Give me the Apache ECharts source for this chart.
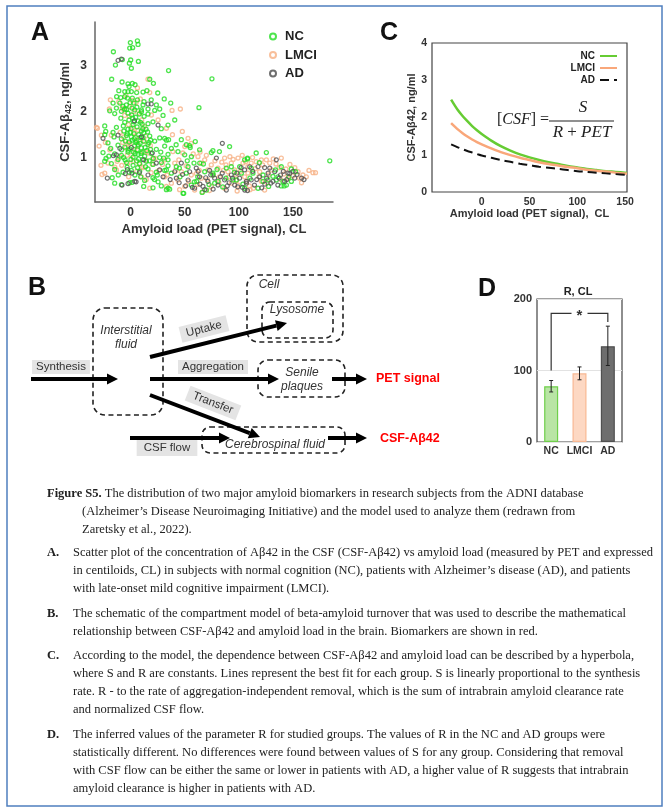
<!DOCTYPE html>
<html>
<head>
<meta charset="utf-8">
<script src="https://cdn.jsdelivr.net/npm/echarts@6/dist/echarts.min.js"></script>
<style>
html, body { margin: 0; padding: 0; background: #fff; }
#chart { width: 669px; height: 811px; }
</style>
</head>
<body>
<div id="chart"></div>
<script>
// A: CSF-Aβ42 vs amyloid load, one [CL, ng/ml] pair per subject
const ncPts = [
  [-0.3,3.51],[6.2,3.55],[6.8,3.47],[-0.9,3.39],[1.8,3.40],[-16,3.31],[-7.7,3.14],[0,3.13],[-1.2,3.06],[7.1,3.10],
  [0.6,2.95],[-14.1,3.02],[35,2.90],[75.1,2.72],[-17.6,2.71],[-8,2.65],[17.6,2.71],[21,2.62],[-2.5,2.61],[1.5,2.62],
  [4,2.59],[-1.5,2.55],[-11,2.46],[-5.5,2.44],[-2.5,2.44],[0.6,2.44],[5.5,2.42],[11.4,2.43],[15,2.46],[25,2.41],
  [-13,2.33],[-9.2,2.31],[-5.5,2.33],[-3,2.30],[1.5,2.30],[6.2,2.26],[12.3,2.22],[19,2.26],[31,2.28],[-16.3,2.19],
  [-10,2.19],[-4,2.15],[3,2.19],[11.4,2.15],[23.7,2.15],[37,2.19],[-13.2,2.08],[-5.5,2.06],[1.2,2.08],[9.9,2.04],
  [16,2.06],[26.8,2.06],[63.1,2.09],
  [-19.4,2.02],[-14.8,1.96],[-8.6,2.01],[-2.5,1.97],[3.7,2.04],[9.9,2.0],[16,1.95],[22.2,2.03],[29.9,1.92],
  [-24,1.69],[-13.2,1.66],[-5.5,1.77],[-2.5,1.62],[2.2,1.72],[6.8,1.8],[9.9,1.58],[16,1.74],[20.6,1.78],[28.3,1.63],
  [-24,1.5],[-16.3,1.55],[-8.6,1.41],[-4,1.48],[0.6,1.45],[5.2,1.37],[11.4,1.44],[17.6,1.47],[22.2,1.36],[26.8,1.43],[33,1.38],
  [-21,1.32],[-11.7,1.27],[-5.5,1.23],[-0.9,1.19],[3.7,1.26],[9.9,1.21],[16,1.29],[23.7,1.18],[31.4,1.25],
  [-25.6,1.11],[-14.8,1.08],[-8.6,1.05],[-2.5,1.12],[2.2,1.01],[6.8,1.07],[12.9,1.03],[19.1,1.09],[26.8,1.0],[34.5,1.07],
  [-24,0.92],[-17.9,0.87],[-11.7,0.96],[-4,0.89],[2.2,0.83],[8.3,0.87],[14.5,0.92],[20.6,0.85],[28.3,0.89],[34.5,0.82],
  [-14.8,0.74],[-7.1,0.68],[0.6,0.72],[8.3,0.7],[16,0.75],[23.7,0.68],[31.4,0.72],
  [-14.8,0.44],[-8.6,0.41],[-0.9,0.45],[12.9,0.5],[20.6,0.56],[25.3,0.47],[28.3,0.38],[33,0.3],[1.5,0.46],[12,0.37],
  [20.6,0.34],[22,0.52],[36,0.31],[49,0.22],[66,0.24],[61,0.48],
  [-7.2,2.12],[-3.8,2.05],[0.9,1.93],[4.6,1.88],[7.9,1.95],[12.4,1.9],[-9.1,1.86],[-1.6,1.82],[2.8,1.78],[5.9,1.67],
  [10.6,1.73],[14.2,1.62],[-6.3,1.58],[-0.4,1.55],[3.1,1.52],[7.4,1.5],[12.1,1.54],[16.8,1.33],[-4.9,1.36],[1.4,1.38],
  [4.8,1.33],[8.7,1.31],[11.9,1.36],[14.9,1.15],[-2.2,1.16],[2.6,1.12],[6.1,1.17],[9.6,1.09],[18.3,1.18],[20.9,0.98],
  [-6.6,1.0],[0.2,0.96],[5.4,0.93],[10.9,0.96],[13.7,0.8],[17.2,0.93],[-3.3,0.79],[3.9,0.62],[9.2,0.58],[6.4,0.78],
  [-11.5,0.62],[-1.3,0.68],[24.6,0.62],[27.8,1.12],[30.5,0.99],[-18.5,1.2],[-15.4,1.45],[-20.2,1.03],[-22.8,0.98],[-17.1,0.56],
  [-23.1,1.57],
  [-6.8,1.69],[-3.1,1.52],[0.3,1.63],[3.4,1.41],[6.9,1.28],[8.8,1.44],[11.2,1.63],[13.3,1.22],[15.6,1.56],[18.4,1.38],
  [-1.4,1.34],[4.1,1.09],[7.3,0.97],[10.4,1.12],[-8.4,1.17],[-5.2,0.95],[1.8,1.86],[5.7,2.1],[-0.6,2.2],[9.1,1.77],
  [34.5,1.71],[40.7,1.82],[31.4,1.42],[35,1.39],[42,1.28],[43.7,1.13],[54.5,1.26],[59.7,1.35],[37.6,1.2],[49.9,1.06],
  [74.5,1.11],[82,1.13],[91.4,1.24],[105.3,0.95],[34.5,0.95],[33,0.73],[37.6,0.66],[45,0.77],[53,0.8],[58.5,0.88],
  [62,0.58],[68.4,0.69],[76,0.62],[80.7,0.48],[88,0.55],[97.6,0.51],[105.3,0.33],[102.3,0.66],[34.5,0.33],[48.4,0.22],
  [56,0.4],[70,0.29],[77.6,0.44],[93,0.8],[108,0.99],
  [51.4,1.28],[55,1.22],[46.8,1.39],[63.7,1.17],[76,1.15],
  [116,1.1],[125.4,1.11],[184,0.93],[108,0.97],[139.2,0.8],[148.5,0.75],[136.2,0.58],[148.5,0.48],[139.2,0.38],[141.8,0.38],
  [117.7,0.33],[126.9,0.51],[134.6,0.51],[111.4,0.77],[122.3,0.62],
  [63.8,0.88],[76,0.66],[88.4,0.77],[94.6,0.51],[100.7,0.8],[113,0.66],[122.3,0.48],[131.5,0.59],[140.8,0.48],[143.9,0.4],
  [42.2,0.8],[51.4,0.66],[56.1,1.02],
  [45.6,0.58],[52.3,0.93],[58.9,0.47],[67.2,0.86],[72.4,0.41],[79.8,0.74],[85.1,0.36],[95.9,0.68],[103.7,0.42],[110.2,0.55],
  [118.9,0.89],[127.5,0.37],[133.8,0.73],[146.2,0.58],[152.4,0.69]
];
const lmciPts = [
  [16,2.71],[6.2,2.52],[17.6,2.42],[-18.8,2.26],[-11,2.22],[-19.7,2.06],[-0.9,2.11],[3,2.0],[-6.2,2.04],
  [-30.8,1.64],[-27.1,1.49],[-17.9,1.49],[-19.4,1.17],[-21,0.88],[-24,0.66],[-13.2,0.73],[9.9,0.58],[17.6,0.33],[33,0.37],
  [25.3,1.82],[19.1,1.93],[6.8,1.6],[12.9,1.35],[3.7,1.17],[16,1.1],[-2.5,1.31],[9.9,0.8],[20.6,0.99],[31.4,0.95],
  [-31.7,1.66],[-26.5,0.63],[38.2,2.03],[45.9,2.06],
  [33,1.64],[53,1.42],[56,1.31],[39,1.13],[50,1.24],[62.2,1.02],[68.4,0.95],[74.5,0.84],[86.8,0.99],[93,0.88],
  [99.2,0.99],[103.8,0.88],[40.7,0.88],[46.8,0.69],[56,0.62],[65.3,0.55],[71.4,0.73],[80.7,0.77],[89.9,0.69],[96.1,0.73],
  [105.3,0.58],[108.4,0.8],[37.6,0.44],[49.9,0.37],[59.1,0.29],[74.5,0.37],[86.8,0.33],[99.2,0.4],[31.4,0.58],[43.7,0.51],
  [65.3,0.88],[82,0.58],[93,0.44],
  [116,0.91],[120.8,0.95],[125.4,0.95],[128.5,0.88],[139.2,0.99],[154.7,0.69],[159.2,0.62],[168.5,0.67],[170.8,0.67],[111.4,0.88],
  [108.4,0.66],[119.2,0.69],[130,0.73],[120.8,0.48],[113.5,0.33],[123.8,0.29],[107,0.48],[145.4,0.55],
  [-5.6,1.92],[-2.1,1.72],[1.9,1.65],[4.3,1.44],[-0.7,1.3],[6.7,1.25],[-3.4,1.05],[2.4,0.92],[7.8,0.86],[11.3,0.78],
  [-8.3,0.83],[-12.6,0.92],[-14.7,0.79],[5.1,2.2],[8.9,2.28],[-4.5,2.36],[1.1,2.25],[10.2,1.82],[13.6,1.47],[16.4,1.12],
  [19.8,0.86],[22.7,0.98],[26.1,0.72],[29.4,0.85],[33.6,0.62],[-9.7,1.55],[-7.4,1.33],[-1.9,0.58],[14.4,0.52],[18.9,0.67],
  [-27.5,0.83],[-23.4,1.33],[-29.2,1.25],
  [-6.5,1.45],[-1.2,1.9],[2.9,1.55],[7.1,1.38],[11.7,1.12],[-4.6,1.21],[0.8,1.05],[5.6,0.7],[-9.9,1.02],[14.1,0.94],
  [-2.7,0.88],[8.2,1.97],[12.6,1.68],[-7.9,2.08],[18.2,1.26],
  [44.5,0.95],[51.2,0.82],[57.8,1.08],[63.4,0.72],[69.9,1.05],[76.3,0.62],[84.2,0.9],[91.7,1.02],[97.5,0.62],[103.1,1.05],
  [112.6,1.0],[118.4,0.58],[127.3,0.62],[131.8,0.97],[137.4,0.78],[141.6,0.64],[147.2,0.85],[149.8,0.6],[156.1,0.55],[162.3,0.58],
  [164.8,0.72],[45.2,0.3],[66.5,0.25],[72.8,0.28],[98.4,0.27],[110.3,0.3],[38.6,1.5],[47.7,1.57],
  [41.3,0.72],[48.2,1.1],[53.6,0.48],[60.7,0.65],[64.1,1.12],[70.8,0.52],[77.9,0.93],[81.5,0.45],[85.6,0.72],[90.3,0.57],
  [94.7,0.96],[101.5,0.7],[106.2,0.91],[109.7,0.38],[115.3,0.76],[121.9,0.84],[126.1,0.45],[134.3,0.86],[138.8,0.52],[143.5,0.75],
  [151.7,0.78],[157.9,0.45],[61.8,0.41],[88.1,0.84],[97.9,0.5]
];
const adPts = [
  [-11.7,3.12],[-8.6,3.15],[16,2.17],[19,2.17],
  [-25.6,1.42],[-11.7,1.49],[-13.2,1.06],[-21.6,0.55],[-2.5,0.43],[3.7,0.48],[1.2,0.66],[25.3,1.71],[29.9,0.58],[23.7,0.88],[26.8,0.73],
  [84.7,1.31],[46.8,0.88],[54.5,0.69],[60.6,0.77],[79.2,0.99],[53,0.51],[63.7,0.58],[71.4,0.48],[77.6,0.55],[80.7,0.4],
  [86.8,0.51],[93,0.62],[96.1,0.4],[100.7,0.55],[106.9,0.48],[42.2,0.55],[59.1,0.33],[88.4,0.29],[66.8,0.37],[105.3,0.73],[40.7,0.69],
  [134.6,0.95],[110,0.8],[117.7,0.8],[123.8,0.78],[128.5,0.77],[133.1,0.69],[145.4,0.66],[151.6,0.55],[160.2,0.52],[111.4,0.51],
  [119.2,0.58],[131.5,0.48],[142.3,0.48],[107,0.44],[114.4,0.4],[105.4,0.29],[138.5,0.62],
  [-16,1.04],[-10,1.2],[-5,0.65],[-8,0.4],[5,0.47],[10,1.45],[20,1.1],[-3,0.74],[0.5,1.22],[3.5,1.8],
  [8,0.67],[12,0.95],[16,0.62],[36.5,0.52],[44.8,0.45],[57,0.35],[64,0.42],[68.5,0.3],[74,0.62],[83,0.58],
  [91,0.45],[99,0.36],[102,0.78],[108,0.28],[124,0.42],[127,0.66],[136,0.4],[147,0.65],[150,0.7],[158,0.55],
  [47.9,0.63],[50.8,0.38],[62.3,0.7],[69.4,0.56],[72.9,0.72],[76.2,0.31],[84.6,0.66],[89.3,0.38],[94.1,0.55],[98.2,0.66],
  [103.2,0.35],[112.8,0.7],[116.5,0.52],[121.1,0.34],[125.7,0.55],[129.6,0.44],[137.2,0.55],[141.1,0.7],[144.3,0.52],[153.8,0.63]
];
const aTicksX = [0, 50, 100, 150];
const aTicksY = [1, 2, 3];

// C: best-fit hyperbolas
const fitX     = [-32, -25, -20, -15, -10, -5, 0, 10, 20, 30, 40, 50, 60, 70, 80, 90, 100, 110, 120, 130, 140, 152];
const fitNC    = [2.48, 2.2, 2.04, 1.9, 1.77, 1.66, 1.56, 1.38, 1.23, 1.11, 1.01, 0.93, 0.86, 0.8, 0.75, 0.7, 0.66, 0.62, 0.59, 0.56, 0.54, 0.51];
const fitLMCI  = [1.85, 1.68, 1.58, 1.49, 1.41, 1.34, 1.28, 1.17, 1.07, 0.99, 0.92, 0.86, 0.8, 0.75, 0.71, 0.67, 0.64, 0.6, 0.57, 0.55, 0.52, 0.49];
const fitAD    = [1.28, 1.2, 1.15, 1.1, 1.06, 1.02, 0.98, 0.92, 0.86, 0.81, 0.76, 0.72, 0.68, 0.65, 0.62, 0.59, 0.56, 0.54, 0.52, 0.5, 0.48, 0.46];
const cTicksX = [0, 50, 100, 150];
const cTicksY = [0, 1, 2, 3, 4];

// D: inferred R per group with error bars
const rGroups = ['NC', 'LMCI', 'AD'];
const rValues = [78, 96, 134];
const rErrLo  = [70, 87, 107];
const rErrHi  = [86, 105, 162];
const sigPair = [0, 2];            // NC vs AD
const sigLevels = [180, 100, 168]; // bracket top, left leg end, right leg end

const SANS = '"Liberation Sans", Arial, sans-serif';
const SERIF = '"Liberation Serif", "Times New Roman", serif';
const green = '#22dd22', orange = '#f7b48a', gray = '#555555';

let myChart = echarts.init(document.getElementById('chart'));

function zip(xs, ys) { return xs.map((x, i) => [x, ys[i]]); }

// --- panel B helpers ---
function arrow(x1, y1, x2, y2) {
    let a = Math.atan2(y2 - y1, x2 - x1), L = 11, W = 5.5;
    let bx = x2 - L * Math.cos(a), by = y2 - L * Math.sin(a);
    return [
        { type: 'line', shape: { x1: x1, y1: y1, x2: bx, y2: by }, style: { stroke: '#000', lineWidth: 4 } },
        { type: 'polygon', shape: { points: [[x2, y2], [bx - W * Math.sin(a), by + W * Math.cos(a)], [bx + W * Math.sin(a), by - W * Math.cos(a)]] }, style: { fill: '#000' } }
    ];
}
function dashBox(x, y, w, h, r) {
    return { type: 'rect', shape: { x: x, y: y, width: w, height: h, r: r }, style: { fill: 'none', stroke: '#222', lineWidth: 1.6, lineDash: [5, 3.5] } };
}
function txt(x, y, s, opt) {
    return { type: 'text', x: x, y: y, rotation: (opt && opt.rot) || 0, z: 10,
        style: Object.assign({ text: s, fontFamily: SANS, fontSize: 12, fill: '#333', align: 'center', verticalAlign: 'middle' }, opt && opt.style) };
}
function tag(x, y, s, rot, pad) {
    return txt(x, y, s, { rot: rot, style: { backgroundColor: '#e4e4e4', padding: pad || [1, 4], fill: '#333', fontSize: 11.5 } });
}

let diagram = [].concat(
    dashBox(93, 308, 70, 107, 12),
    dashBox(247, 275, 96, 67, 11),
    dashBox(262, 302, 71, 36, 8),
    dashBox(258, 360, 87, 37, 10),
    dashBox(202, 427, 143, 26, 8),
    arrow(31, 379, 118, 379),
    arrow(150, 357, 287, 323),
    arrow(150, 379, 279, 379),
    arrow(332, 379, 367, 379),
    arrow(150, 395, 260, 437),
    arrow(130, 438, 230, 438),
    arrow(328, 438, 367, 438),
    [
        txt(126, 331, 'Interstitial', { style: { fontStyle: 'italic' } }),
        txt(126, 345, 'fluid', { style: { fontStyle: 'italic' } }),
        txt(269, 285, 'Cell', { style: { fontStyle: 'italic' } }),
        txt(297, 310, 'Lysosome', { style: { fontStyle: 'italic' } }),
        txt(302, 373, 'Senile', { style: { fontStyle: 'italic' } }),
        txt(302, 387, 'plaques', { style: { fontStyle: 'italic' } }),
        txt(275, 445, 'Cerebrospinal fluid', { style: { fontStyle: 'italic' } }),
        tag(61, 367, 'Synthesis'),
        tag(213, 367, 'Aggregation'),
        tag(204, 329, 'Uptake', 0.245, [2, 6]),
        tag(213, 403, 'Transfer', -0.37, [2, 6]),
        tag(167, 448, 'CSF flow', 0, [2, 7]),
        txt(376, 379, 'PET signal', { style: { align: 'left', fill: '#ff0000', fontWeight: 'bold', fontSize: 12.5 } }),
        txt(380, 439, 'CSF-Aβ42', { style: { align: 'left', fill: '#ff0000', fontWeight: 'bold', fontSize: 12.5 } })
    ]
);

// --- caption ---
const capLines = [
    [47, 494, 'Figure S5.', ' The distribution of two major amyloid biomarkers in research subjects from the ADNI database'],
    [82, 512, '', '(Alzheimer’s Disease Neuroimaging Initiative) and the model used to analyze them (redrawn from'],
    [82, 530, '', 'Zaretsky et al., 2022).'],
    [73, 553, 'A.', 'Scatter plot of the concentration of Aβ42 in the CSF (CSF-Aβ42) vs amyloid load (measured by PET and expressed'],
    [73, 571, '', 'in centiloids, CL) in subjects with normal cognition (NC), patients with Alzheimer’s disease (AD), and patients'],
    [73, 589, '', 'with late-onset mild cognitive impairment (LMCI).'],
    [73, 614, 'B.', 'The schematic of the compartment model of beta-amyloid turnover that was used to describe the mathematical'],
    [73, 632, '', 'relationship between CSF-Aβ42 and amyloid load in the brain. Biomarkers are shown in red.'],
    [73, 656, 'C.', 'According to the model, the dependence between CSF-Aβ42 and amyloid load can be described by a hyperbola,'],
    [73, 674, '', 'where S and R are constants. Lines represent the best fit for each group. S is linearly proportional to the synthesis'],
    [73, 692, '', 'rate. R - to the rate of aggregation-independent removal, which is the sum of intrabrain amyloid clearance rate'],
    [73, 710, '', 'and normalized CSF flow.'],
    [73, 735, 'D.', 'The inferred values of the parameter R for studied groups. The values of R in the NC and AD groups were'],
    [73, 753, '', 'statistically different. No differences were found between values of S for any group. Considering that removal'],
    [73, 771, '', 'with CSF flow can be either the same or lower in patients with AD, a higher value of R suggests that intrabrain'],
    [73, 789, '', 'amyloid clearance is higher in patients with AD.']
];
let caption = [];
capLines.forEach(function (l) {
    let capStyle = { fontFamily: SERIF, fontSize: 12.5, fill: '#222', verticalAlign: 'middle' };
    if (l[2] === 'Figure S5.') {
        caption.push({ type: 'text', x: l[0], y: l[1], style: Object.assign({}, capStyle, {
            text: '{b|Figure S5.}' + l[3], rich: { b: { fontFamily: SERIF, fontSize: 12.5, fontWeight: 'bold', fill: '#222' } } }) });
        return;
    }
    if (l[2]) caption.push({ type: 'text', x: 47, y: l[1], style: Object.assign({}, capStyle, { text: l[2], fontWeight: 'bold' }) });
    caption.push({ type: 'text', x: l[0], y: l[1], style: Object.assign({}, capStyle, { text: l[3] }) });
});

function letter(x, y, s) {
    return { type: 'text', x: x, y: y, style: { text: s, fontFamily: SANS, fontWeight: 'bold', fontSize: 25, fill: '#111', align: 'center', verticalAlign: 'middle' } };
}

let boldLabel = function (size) { return { fontFamily: SANS, fontWeight: 'bold', fontSize: size, color: '#333' }; };

let option = {
    animation: false,
    backgroundColor: '#fff',
    grid: [
        { left: 95, top: 22, width: 238, height: 180 },
        { left: 432, top: 43, width: 195, height: 149, show: true, borderColor: '#444', borderWidth: 1.2 },
        { left: 537, top: 299, width: 85, height: 143, show: true, borderColor: '#444', borderWidth: 1.2 }
    ],
    legend: [
        { data: ['NC', 'LMCI', 'AD'], orient: 'vertical', left: 264, top: 24, itemWidth: 14, itemHeight: 6, itemGap: 3.5,
          selectedMode: false, textStyle: { fontFamily: SANS, fontWeight: 'bold', fontSize: 13, lineHeight: 15, color: '#222' } },
        { data: ['NC fit', 'LMCI fit', 'AD fit'], orient: 'vertical', right: 46, top: 45, align: 'right', itemWidth: 17, itemHeight: 8, itemGap: 0,
          selectedMode: false, formatter: function (n) { return n.replace(' fit', ''); },
          itemStyle: { opacity: 0 },
          textStyle: { fontFamily: SANS, fontWeight: 'bold', fontSize: 10, lineHeight: 12, color: '#222' } }
    ],
    xAxis: [
        { type: 'value', gridIndex: 0, min: -33, max: 187, splitLine: { show: false }, axisTick: { show: false },
          axisLine: { onZero: false, lineStyle: { color: '#666', width: 1.5 } },
          axisLabel: Object.assign({ customValues: aTicksX, margin: 5 }, boldLabel(12)),
          name: 'Amyloid load (PET signal), CL', nameLocation: 'middle', nameGap: 21, nameTextStyle: boldLabel(13) },
        { type: 'value', gridIndex: 1, min: -52, max: 152, splitLine: { show: false }, axisTick: { show: false }, axisLine: { show: false },
          axisLabel: Object.assign({ customValues: cTicksX, margin: 5 }, boldLabel(10.5)),
          name: 'Amyloid load (PET signal),  CL', nameLocation: 'middle', nameGap: 15, nameTextStyle: boldLabel(11) },
        { type: 'category', gridIndex: 2, data: rGroups, axisTick: { show: false }, axisLine: { show: false },
          axisLabel: Object.assign({ margin: 4, interval: 0 }, boldLabel(10.5)) }
    ],
    yAxis: [
        { type: 'value', gridIndex: 0, min: 0.03, max: 3.96, splitLine: { show: false }, axisTick: { show: false },
          axisLine: { show: true, onZero: false, lineStyle: { color: '#666', width: 1.5 } },
          axisLabel: Object.assign({ customValues: aTicksY, margin: 8 }, boldLabel(12)),
          name: 'CSF-Aβ{s|42}, ng/ml', nameLocation: 'middle', nameGap: 22,
          nameTextStyle: Object.assign({ lineHeight: 16, rich: { s: { fontFamily: SANS, fontWeight: 'bold', fontSize: 9, lineHeight: 9, verticalAlign: 'bottom', color: '#333' } } }, boldLabel(13)) },
        { type: 'value', gridIndex: 1, min: 0, max: 4, splitLine: { show: false }, axisTick: { show: false }, axisLine: { show: false },
          axisLabel: Object.assign({ customValues: cTicksY, margin: 5 }, boldLabel(10.5)),
          name: 'CSF-Aβ42, ng/ml', nameLocation: 'middle', nameGap: 14, nameTextStyle: boldLabel(11) },
        { type: 'value', gridIndex: 2, min: 0, max: 200, interval: 100, axisTick: { show: false }, axisLine: { show: false },
          splitLine: { lineStyle: { color: '#e2e2e2', width: 1 } },
          axisLabel: Object.assign({ margin: 5 }, boldLabel(11)) }
    ],
    series: [
        { name: 'LMCI', type: 'scatter', xAxisIndex: 0, yAxisIndex: 0, data: lmciPts, symbol: 'circle', symbolSize: 4,
          itemStyle: { color: 'rgba(0,0,0,0)', borderColor: orange, borderWidth: 1.3, opacity: 0.85 } },
        { name: 'NC', type: 'scatter', xAxisIndex: 0, yAxisIndex: 0, data: ncPts, symbol: 'circle', symbolSize: 4,
          itemStyle: { color: 'rgba(0,0,0,0)', borderColor: green, borderWidth: 1.3 } },
        { name: 'AD', type: 'scatter', xAxisIndex: 0, yAxisIndex: 0, data: adPts, symbol: 'circle', symbolSize: 4,
          itemStyle: { color: 'rgba(0,0,0,0)', borderColor: gray, borderWidth: 1.2, opacity: 0.85 } },

        { name: 'NC fit', type: 'line', xAxisIndex: 1, yAxisIndex: 1, data: zip(fitX, fitNC), smooth: 0.3, symbol: 'none',
          lineStyle: { color: '#66cc33', width: 2.5 }, itemStyle: { color: '#66cc33' } },
        { name: 'LMCI fit', type: 'line', xAxisIndex: 1, yAxisIndex: 1, data: zip(fitX, fitLMCI), smooth: 0.3, symbol: 'none',
          lineStyle: { color: '#f9a77a', width: 2.5 }, itemStyle: { color: '#f9a77a' } },
        { name: 'AD fit', type: 'line', xAxisIndex: 1, yAxisIndex: 1, data: zip(fitX, fitAD), smooth: 0.3, symbol: 'none',
          lineStyle: { color: '#111', width: 2, type: [9, 5] }, itemStyle: { color: '#111' } },

        { name: 'R', type: 'bar', xAxisIndex: 2, yAxisIndex: 2, barWidth: 14,
          data: rValues.map(function (v, i) {
              let st = [
                  { color: '#b9e5a5', borderColor: '#6fcf4a' },
                  { color: '#fdd8c3', borderColor: '#f8b893' },
                  { color: '#6e6e6e', borderColor: '#505050' }
              ][i];
              return { value: v, itemStyle: Object.assign({ borderWidth: 1.2 }, st) };
          }) },
        { name: 'err', type: 'custom', xAxisIndex: 2, yAxisIndex: 2, z: 5,
          data: rGroups.map(function (g, i) { return [i, rErrLo[i], rErrHi[i]]; }),
          encode: { x: 0, y: [1, 2] },
          renderItem: function (params, api) {
              let lo = api.coord([api.value(0), api.value(1)]);
              let hi = api.coord([api.value(0), api.value(2)]);
              let c = 2, st = { stroke: '#222', lineWidth: 1 };
              return { type: 'group', children: [
                  { type: 'line', shape: { x1: lo[0], y1: lo[1], x2: hi[0], y2: hi[1] }, style: st },
                  { type: 'line', shape: { x1: lo[0] - c, y1: lo[1], x2: lo[0] + c, y2: lo[1] }, style: st },
                  { type: 'line', shape: { x1: hi[0] - c, y1: hi[1], x2: hi[0] + c, y2: hi[1] }, style: st }
              ] };
          } },
        { name: 'sig', type: 'custom', xAxisIndex: 2, yAxisIndex: 2, z: 5,
          data: [[sigPair[0], sigPair[1], sigLevels[0], sigLevels[1], sigLevels[2]]],
          encode: { x: [0, 1], y: [2, 3, 4] },
          renderItem: function (params, api) {
              let tl = api.coord([api.value(0), api.value(2)]);
              let bl = api.coord([api.value(0), api.value(3)]);
              let tr = api.coord([api.value(1), api.value(2)]);
              let br = api.coord([api.value(1), api.value(4)]);
              let mid = (tl[0] + tr[0]) / 2, gap = 8;
              let st = { stroke: '#333', lineWidth: 1.2, fill: 'none' };
              return { type: 'group', children: [
                  { type: 'polyline', shape: { points: [bl, tl, [mid - gap, tl[1]]] }, style: st },
                  { type: 'polyline', shape: { points: [[mid + gap, tr[1]], tr, br] }, style: st },
                  { type: 'text', x: mid, y: tl[1] + 3, style: { text: '*', fontFamily: SANS, fontWeight: 'bold', fontSize: 15, fill: '#333', align: 'center', verticalAlign: 'middle' } }
              ] };
          } }
    ],
    graphic: [].concat(
        [{ type: 'rect', shape: { x: 7, y: 6, width: 655, height: 800 }, style: { fill: 'none', stroke: '#4f7fbf', lineWidth: 1.5 } }],
        [letter(40, 33, 'A'), letter(389, 33, 'C'), letter(37, 288, 'B'), letter(487, 289, 'D')],
        [{ type: 'text', x: 578, y: 292, style: { text: 'R, CL', fontFamily: SANS, fontWeight: 'bold', fontSize: 11, fill: '#222', align: 'center', verticalAlign: 'middle' } }],
        // formula in panel C
        [
            { type: 'text', x: 523, y: 120, style: { text: '[{i|CSF}] =', fontFamily: SERIF, fontSize: 16, fill: '#222', align: 'center', verticalAlign: 'middle',
              rich: { i: { fontFamily: SERIF, fontSize: 16, fontStyle: 'italic', fill: '#222' } } } },
            { type: 'text', x: 583, y: 108, style: { text: 'S', fontFamily: SERIF, fontSize: 17, fontStyle: 'italic', fill: '#222', align: 'center', verticalAlign: 'middle' } },
            { type: 'line', shape: { x1: 549, y1: 121, x2: 614, y2: 121 }, style: { stroke: '#222', lineWidth: 1.2 } },
            { type: 'text', x: 582, y: 133, style: { text: '{i|R} + {i|PET}', fontFamily: SERIF, fontSize: 17, fill: '#222', align: 'center', verticalAlign: 'middle',
              rich: { i: { fontFamily: SERIF, fontSize: 17, fontStyle: 'italic', fill: '#222' } } } }
        ],
        diagram,
        caption
    )
};
myChart.setOption(option);
</script>
</body>
</html>
